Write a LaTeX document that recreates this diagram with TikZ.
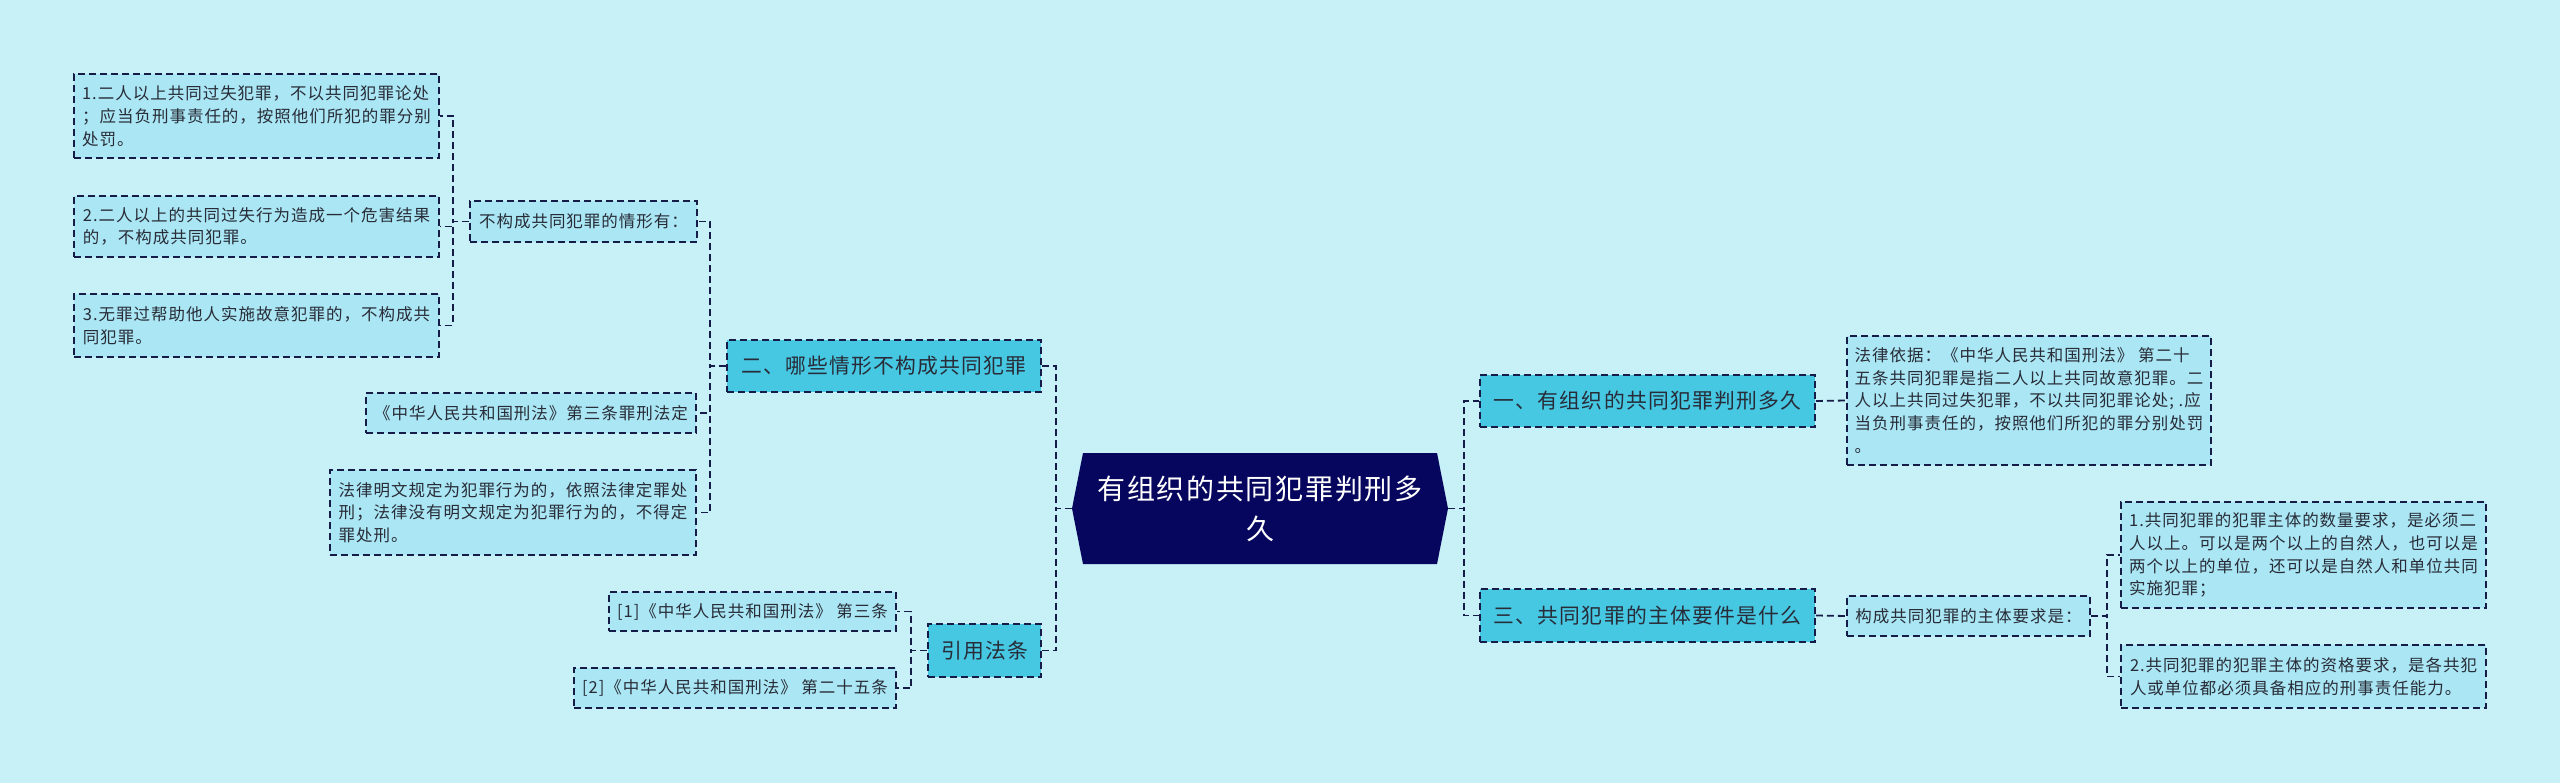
\documentclass[tikz,border=0pt]{standalone}
\usepackage{fontspec}
\setmainfont{Noto Sans CJK SC}[LetterSpace=6]
\usepackage{tikz}
\usetikzlibrary{positioning}

\definecolor{bgcol}{RGB}{200,240,247}
\definecolor{rootcol}{RGB}{6,6,94}
\definecolor{branchcol}{RGB}{70,199,226}
\definecolor{leafcol}{RGB}{170,230,243}
\definecolor{linecol}{RGB}{22,28,72}
\definecolor{textcol}{RGB}{40,44,56}

\tikzset{
  box/.style={rectangle, draw=linecol, line width=1.8pt, dash pattern=on 7pt off 4pt,
    inner sep=6pt, text=textcol, align=left},
  leaf/.style={box, fill=leafcol, font=\fontsize{16.5}{22.8}\selectfont},
  branch/.style={box, fill=branchcol, font=\fontsize{20.8}{26}\selectfont},
  rootbox/.style={rectangle, text=white, align=center, inner sep=0pt,
    font=\fontsize{28}{40}\selectfont,
    path picture={\fill[rootcol] (path picture bounding box.west)
      -- ([xshift=11pt]path picture bounding box.north west)
      -- ([xshift=-11pt]path picture bounding box.north east)
      -- (path picture bounding box.east)
      -- ([xshift=-11pt]path picture bounding box.south east)
      -- ([xshift=11pt]path picture bounding box.south west) -- cycle;}},
  link/.style={draw=linecol, line width=1.8pt, dash pattern=on 7pt off 4pt}
}

\begin{document}
\begin{tikzpicture}[x=1pt, y=-1pt]
  \fill[bgcol] (0,0) rectangle (2560,783);
  \useasboundingbox (0,0) rectangle (2560,783);
  % Define nodes
  \node[rootbox, minimum width=376, minimum height=111] (root) at (1260,508.5) {有组织的共同犯罪判刑多\\久};
  % right side
  \node[branch, minimum width=335, minimum height=52] (br1) at (1647.5,401) {一、有组织的共同犯罪判刑多久};
  \node[leaf, minimum width=364, minimum height=129] (lf1) at (2029,400.5) {法律依据：《中华人民共和国刑法》 第二十\\五条共同犯罪是指二人以上共同故意犯罪。二\\人以上共同过失犯罪，不以共同犯罪论处; .应\\当负刑事责任的，按照他们所犯的罪分别处罚\\。};
  \node[branch, minimum width=335, minimum height=53] (br3) at (1647.5,615.5) {三、共同犯罪的主体要件是什么};
  \node[leaf, minimum width=243, minimum height=40] (sub3) at (1968.5,616) {构成共同犯罪的主体要求是：};
  \node[leaf, minimum width=365, minimum height=106] (lf3a) at (2303.5,555) {1.共同犯罪的犯罪主体的数量要求，是必须二\\人以上。可以是两个以上的自然人，也可以是\\两个以上的单位，还可以是自然人和单位共同\\实施犯罪；};
  \node[leaf, minimum width=365, minimum height=63] (lf3b) at (2303.5,676.5) {2.共同犯罪的犯罪主体的资格要求，是各共犯\\人或单位都必须具备相应的刑事责任能力。};
  % left side
  \node[branch, minimum width=314, minimum height=52] (br2) at (884,366) {二、哪些情形不构成共同犯罪};
  \node[leaf, minimum width=227, minimum height=41] (sub2) at (583.5,221.5) {不构成共同犯罪的情形有：};
  \node[leaf, minimum width=365, minimum height=84] (lfA) at (256.5,116) {1.二人以上共同过失犯罪，不以共同犯罪论处\\；应当负刑事责任的，按照他们所犯的罪分别\\处罚。};
  \node[leaf, minimum width=365, minimum height=61] (lfB) at (256.5,226.5) {2.二人以上的共同过失行为造成一个危害结果\\的，不构成共同犯罪。};
  \node[leaf, minimum width=365, minimum height=63] (lfC) at (256.5,325.5) {3.无罪过帮助他人实施故意犯罪的，不构成共\\同犯罪。};
  \node[leaf, minimum width=330, minimum height=40] (lfD) at (531,413) {《中华人民共和国刑法》第三条罪刑法定};
  \node[leaf, minimum width=366, minimum height=85] (lfE) at (513,512.5) {法律明文规定为犯罪行为的，依照法律定罪处\\刑；法律没有明文规定为犯罪行为的，不得定\\罪处刑。};
  \node[branch, minimum width=113, minimum height=53] (cite) at (984.5,650.5) {引用法条};
  \node[leaf, minimum width=287, minimum height=39] (cite1) at (752.5,611.5) {[1]《中华人民共和国刑法》 第三条};
  \node[leaf, minimum width=322, minimum height=40] (cite2) at (735,688) {[2]《中华人民共和国刑法》 第二十五条};
  % Connect nodes
  \draw[link] (root.east) -- ++(16,0) |- (br1.west);
  \draw[link] (root.east) -- ++(16,0) |- (br3.west);
  \draw[link] (br1.east) -- (lf1.west);
  \draw[link] (br3.east) -- (sub3.west);
  \draw[link] (sub3.east) -- ++(16,0) |- (lf3a.west);
  \draw[link] (sub3.east) -- ++(16,0) |- (lf3b.west);
  \draw[link] (root.west) -- ++(-16,0) |- (br2.east);
  \draw[link] (root.west) -- ++(-16,0) |- (cite.east);
  \draw[link] (br2.west) -- ++(-16,0) |- (sub2.east);
  \draw[link] (br2.west) -- ++(-16,0) |- (lfD.east);
  \draw[link] (br2.west) -- ++(-16,0) |- (lfE.east);
  \draw[link] (sub2.west) -- ++(-16,0) |- (lfA.east);
  \draw[link] (sub2.west) -- ++(-16,0) |- (lfB.east);
  \draw[link] (sub2.west) -- ++(-16,0) |- (lfC.east);
  \draw[link] (cite.west) -- ++(-16,0) |- (cite1.east);
  \draw[link] (cite.west) -- ++(-16,0) |- (cite2.east);
\end{tikzpicture}
\end{document}
